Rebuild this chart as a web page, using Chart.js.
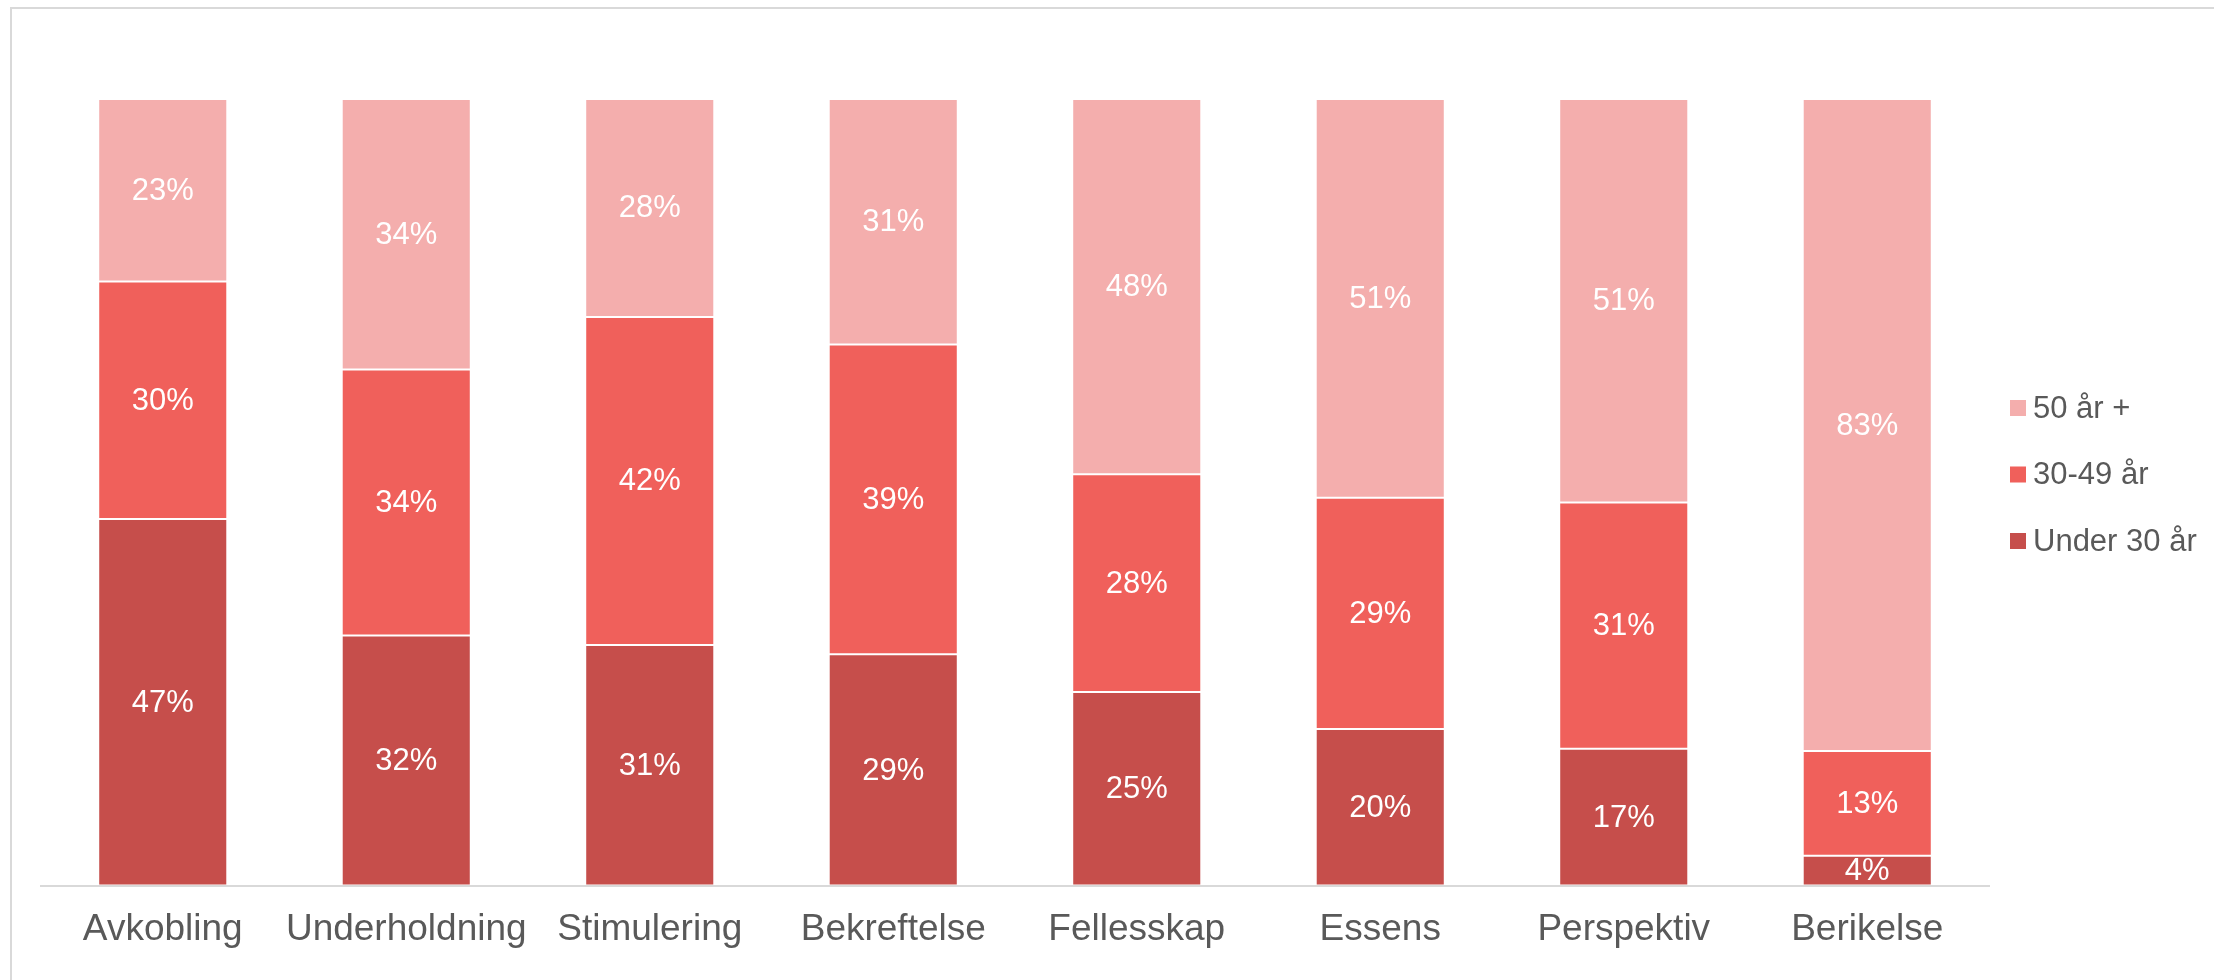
<!DOCTYPE html>
<html lang="no">

<head>
  <meta charset="UTF-8">
  <title>Aldersfordeling</title>
  <script src="https://cdn.jsdelivr.net/npm/chart.js"></script>
  <style>
    body { margin: 0; background: #fff; }
    #wrap { position: relative; width: 2214px; height: 980px; overflow: hidden; }
    #frame { position: absolute; left: 10px; top: 7px; width: 2400px; height: 1200px; border: 2px solid #d9d9d9; }
    #chart { position: absolute; left: 0; top: 0; }
  </style>
</head>

<body>
  <div id="wrap">
    <div id="frame"></div>
    <canvas id="chart" width="2214" height="980"></canvas>
  </div>

  <script>
    // categories and series (percent of each bar)
    const categories = ['Avkobling', 'Underholdning', 'Stimulering', 'Bekreftelse', 'Fellesskap', 'Essens', 'Perspektiv', 'Berikelse'];
    const under30 = [46.6, 31.8, 30.6, 29.4, 24.6, 19.9, 17.4, 3.8];
    const age30to49 = [30.2, 33.8, 41.7, 39.4, 27.7, 29.4, 31.3, 13.3];
    const age50plus = [23.2, 34.4, 27.7, 31.2, 47.7, 50.7, 51.3, 82.9];
    const seriesNames = ['Under 30 år', '30-49 år', '50 år +'];
    const seriesColors = ['#c64e4b', '#f0605b', '#f4aead'];

    const textColor = '#595959';
    const fontFamily = "Arial, 'Liberation Sans', sans-serif";

    // white percentage labels in the middle of every segment
    const valueLabels = {
      id: 'valueLabels',
      afterDatasetsDraw(chart) {
        const ctx = chart.ctx;
        ctx.save();
        ctx.fillStyle = '#ffffff';
        ctx.font = '31px ' + fontFamily;
        ctx.textAlign = 'center';
        ctx.textBaseline = 'middle';
        chart.data.datasets.forEach((ds, i) => {
          chart.getDatasetMeta(i).data.forEach((bar, j) => {
            const p = bar.getProps(['x', 'y', 'base'], true);
            ctx.fillText(Math.round(ds.data[j]) + '%', p.x, (p.y + p.base) / 2 + 1);
          });
        });
        ctx.restore();
      }
    };

    // legend on the right, top item is the top segment
    const sideLegend = {
      id: 'sideLegend',
      afterDraw(chart) {
        const ctx = chart.ctx;
        const lx = 2010;
        const y0 = 408;
        const step = 66.5;
        ctx.save();
        ctx.font = '31px ' + fontFamily;
        ctx.textBaseline = 'middle';
        const sets = chart.data.datasets.slice().reverse();
        sets.forEach((ds, k) => {
          const y = y0 + k * step;
          ctx.fillStyle = ds.backgroundColor;
          ctx.fillRect(lx, y - 8, 16, 16);
          ctx.fillStyle = textColor;
          ctx.fillText(ds.label, lx + 23, y + 1);
        });
        ctx.restore();
      }
    };

    const seriesData = [under30, age30to49, age50plus];

    new Chart(document.getElementById('chart'), {
      type: 'bar',
      data: {
        labels: categories,
        datasets: seriesData.map((d, i) => ({
          label: seriesNames[i],
          data: d,
          backgroundColor: seriesColors[i],
          borderColor: 'rgba(255,255,255,0.16)',
          borderWidth: 1,
          borderSkipped: false,
          categoryPercentage: 1,
          barPercentage: 0.53
        }))
      },
      options: {
        responsive: false,
        animation: false,
        layout: { padding: { top: 99, bottom: 6, left: 41, right: 225 } },
        plugins: {
          legend: { display: false },
          tooltip: { enabled: false }
        },
        scales: {
          x: {
            stacked: true,
            grid: { display: false, drawTicks: false },
            border: { display: true, color: '#d9d9d9', width: 2 },
            ticks: {
              color: textColor,
              padding: 22,
              autoSkip: false,
              maxRotation: 0,
              minRotation: 0,
              font: { size: 37, family: fontFamily }
            }
          },
          y: {
            stacked: true,
            display: false,
            min: 0,
            max: 100
          }
        }
      },
      plugins: [valueLabels, sideLegend]
    });
  </script>
</body>

</html>
